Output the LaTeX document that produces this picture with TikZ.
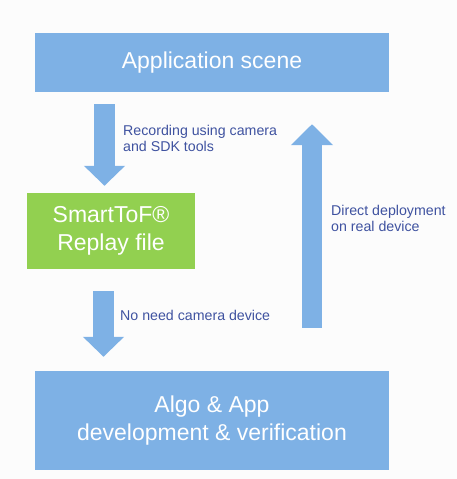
\documentclass[tikz,border=0pt]{standalone}
\usepackage{fontspec}
\setmainfont{Liberation Sans}
\usetikzlibrary{arrows.meta}
\definecolor{boxblue}{HTML}{7EB1E5}
\definecolor{boxgreen}{HTML}{92D050}
\definecolor{labelblue}{HTML}{3F52A0}
\definecolor{bg}{HTML}{FCFCFC}
\tikzset{
  bigbox/.style={fill=boxblue, draw=none, inner sep=0pt, text=white, align=center,
    font=\fontsize{23}{28}\selectfont},
  greenbox/.style={fill=boxgreen, draw=none, inner sep=0pt, text=white, align=center,
    font=\fontsize{23}{28}\selectfont},
  blockarrow/.style={draw=boxblue, line width=21pt, line cap=butt,
    -{Triangle[width=40pt,length=20pt]}},
  lbl/.style={text=labelblue, align=left, inner sep=0pt, anchor=west,
    font=\fontsize{14.2}{16}\selectfont}
}
\begin{document}
\begin{tikzpicture}[x=1pt,y=-1pt]
  \fill[bg] (0,0) rectangle (457,479);
  \useasboundingbox (0,0) rectangle (457,479);

  \node[bigbox, minimum width=354pt, minimum height=59pt] (app) at (212,62.5) {Application scene};
  \node[greenbox, minimum width=168pt, minimum height=76pt] (replay) at (111,231) {SmartToF®\\Replay file};
  \node[bigbox, minimum width=354pt, minimum height=99pt] (dev) at (212,420.5) {Algo \& App\\development \& verification};

  \coordinate (c1) at (104.5,0);
  \coordinate (c2) at (103.5,0);
  \coordinate (c3) at (312,0);

  \draw[blockarrow, shorten <=12pt, shorten >=7pt] (app.south -| c1) -- (replay.north -| c1);
  \draw[blockarrow, shorten <=22pt, shorten >=14pt] (replay.south -| c2) -- (dev.north -| c2);
  \draw[blockarrow, line width=20pt, -{Triangle[width=41pt,length=21pt]}, shorten <=43pt, shorten >=32pt] (dev.north -| c3) -- (app.south -| c3);

  \node[lbl] (l1) at (123,138) {Recording using camera\\and SDK tools};
  \node[lbl] (l2) at (120,315) {No need camera device};
  \node[lbl] (l3) at (331,218.5) {Direct deployment\\on real device};
\end{tikzpicture}
\end{document}
